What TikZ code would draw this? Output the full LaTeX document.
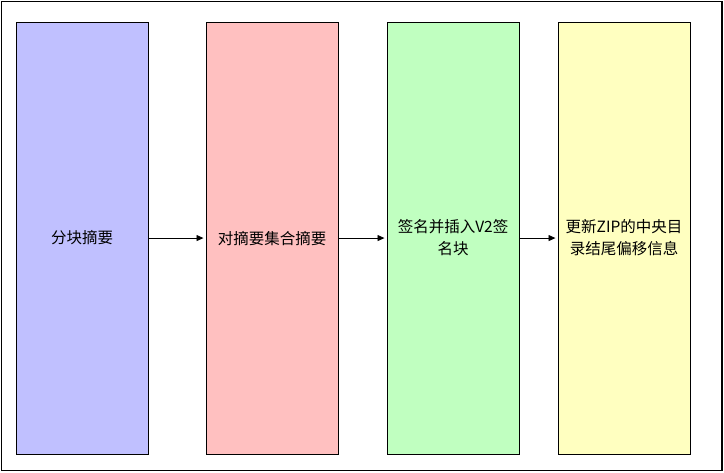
\documentclass[tikz,border=0pt]{standalone}
\usepackage{fontspec}
\setmainfont{Noto Sans CJK SC}
\usetikzlibrary{arrows.meta}
\begin{document}
\begin{tikzpicture}[x=1pt,y=-1pt,
  stage/.style={draw=black,line width=1.1pt,minimum width=132pt,minimum height=432pt,anchor=north west,align=center,font=\fontsize{15.5}{22}\selectfont,inner sep=0pt},
  conn/.style={draw=black,line width=0.9pt,-{Triangle[length=7pt,width=6pt]},shorten >=2pt}]
\useasboundingbox (0,0) rectangle (724,472);
\draw[line width=1.1pt] (1.5,1.5) rectangle (722,470.5);
\node[stage,fill={rgb,255:red,192;green,192;blue,255}] (a) at (15.5,21.5) {分块摘要};
\node[stage,fill={rgb,255:red,255;green,192;blue,192}] (b) at (205.5,21.5) {对摘要集合摘要};
\node[stage,fill={rgb,255:red,192;green,255;blue,192}] (c) at (386.5,21.5) {签名并插入V2签\\名块};
\node[stage,fill={rgb,255:red,255;green,255;blue,192}] (d) at (557.5,21.5) {更新ZIP的中央目\\录结尾偏移信息};
\draw[conn] (a) -- (b);
\draw[conn] (b) -- (c);
\draw[conn] (c) -- (d);
\end{tikzpicture}
\end{document}
